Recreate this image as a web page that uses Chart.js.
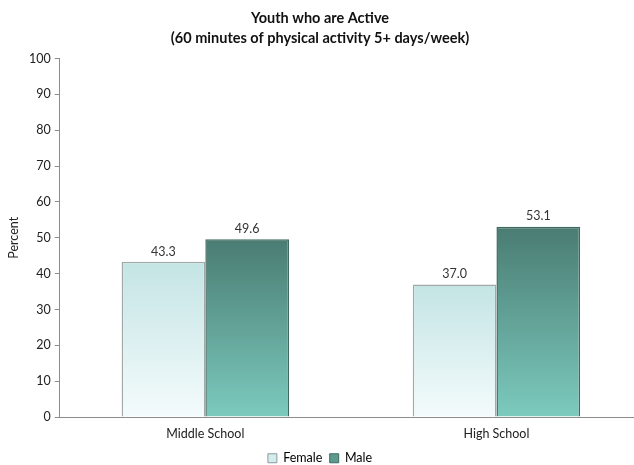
<!DOCTYPE html>
<html>
<head>
<meta charset="utf-8">
<script src="https://cdn.jsdelivr.net/npm/chart.js@4"></script>
<style>
  html, body { margin: 0; padding: 0; background: #fff; }
  #wrap { width: 634px; height: 465px; }
</style>
</head>
<body>
<div id="wrap"><canvas id="active_chart"></canvas></div>
<script>
let categories = ['Middle School', 'High School'];
let female_data = [43.3, 37.0];
let male_data = [49.6, 53.1];
let y_ticks = [0, 10, 20, 30, 40, 50, 60, 70, 80, 90, 100];

// vertical gradient from the top of each bar down to zero
function barGradient(context, topColor, bottomColor) {
    let chart = context.chart;
    let area = chart.chartArea;
    if (!area || context.parsed === undefined) return topColor;
    let y = chart.scales.y;
    let top = y.getPixelForValue(context.parsed.y);
    let bottom = y.getPixelForValue(0);
    let g = chart.ctx.createLinearGradient(0, top, 0, bottom);
    g.addColorStop(0, topColor);
    g.addColorStop(1, bottomColor);
    return g;
}

// value labels above bars
const valueLabels = {
    id: 'valueLabels',
    afterDatasetsDraw(chart) {
        let ctx = chart.ctx;
        ctx.save();
        ctx.font = '12.5px Lato, "Open Sans", sans-serif';
        ctx.fillStyle = '#333';
        ctx.textAlign = 'center';
        ctx.textBaseline = 'bottom';
        chart.data.datasets.forEach(function(ds, i) {
            chart.getDatasetMeta(i).data.forEach(function(bar, j) {
                ctx.fillText(ds.data[j].toFixed(1), bar.x, bar.y - 4);
            });
        });
        ctx.restore();
    }
};

// let the category axis run a little past the right edge of the canvas,
// and nudge the legend down toward the bottom edge
const layoutTweaks = {
    id: 'layoutTweaks',
    afterLayout(chart) {
        let x = chart.scales.x;
        x.right += 8;
        x.width += 8;
        x.configure();
        if (chart.legend) {
            chart.legend.top += 9;
            chart.legend.bottom += 9;
        }
    }
};

Chart.defaults.font.family = 'Lato, "Open Sans", sans-serif';
Chart.defaults.color = '#222';

new Chart(document.getElementById('active_chart'), {
    type: 'bar',
    data: {
        labels: categories,
        datasets: [
            {
                label: 'Female',
                data: female_data,
                backgroundColor: (c) => barGradient(c, '#c4e4e4', '#f4fbfc'),
                borderColor: '#a3a9a9',
                borderWidth: 1.5,
                legendColor: '#d4ecec',
                legendBorder: '#8a9a9a'
            },
            {
                label: 'Male',
                data: male_data,
                backgroundColor: (c) => barGradient(c, '#4a7c72', '#7ccabe'),
                borderColor: '#3f6a62',
                borderWidth: 1.5,
                legendColor: '#5c9a8e',
                legendBorder: '#3f6a62'
            }
        ]
    },
    options: {
        responsive: true,
        maintainAspectRatio: false,
        animation: false,
        layout: { padding: { top: 0, right: 0, left: 6, bottom: 0 } },
        datasets: {
            bar: { categoryPercentage: 0.575, barPercentage: 1.0 }
        },
        plugins: {
            title: {
                display: true,
                text: ['Youth who are Active', '(60 minutes of physical activity 5+ days/week)'],
                font: { size: 14.5, weight: 'bold', lineHeight: 1.4 },
                color: '#111',
                padding: { top: 8, bottom: 10 }
            },
            legend: {
                position: 'bottom',
                maxHeight: 23,
                labels: {
                    boxWidth: 9,
                    boxHeight: 9,
                    padding: 1,
                    font: { size: 12.5 },
                    color: '#222',
                    generateLabels: function(chart) {
                        return chart.data.datasets.map(function(ds, i) {
                            return {
                                text: i === 0 ? ds.label + '  ' : ds.label,
                                fillStyle: ds.legendColor,
                                strokeStyle: ds.legendBorder,
                                lineWidth: 1,
                                datasetIndex: i
                            };
                        });
                    }
                }
            },
            tooltip: { enabled: false }
        },
        scales: {
            y: {
                min: 0,
                max: 100,
                afterBuildTicks: function(axis) {
                    axis.ticks = y_ticks.map((v) => ({ value: v }));
                },
                title: {
                    display: true,
                    text: 'Percent',
                    font: { size: 12.5 },
                    color: '#222',
                    padding: { top: 0, bottom: 4 }
                },
                ticks: { font: { size: 12.5 }, color: '#222', padding: 4 },
                grid: {
                    drawOnChartArea: false,
                    tickLength: 5,
                    color: '#8c8c8c'
                },
                border: { color: '#8c8c8c', width: 1 }
            },
            x: {
                ticks: { font: { size: 12.5 }, color: '#222', padding: 1 },
                grid: { display: false },
                border: { color: '#8c8c8c', width: 1 }
            }
        }
    },
    plugins: [valueLabels, layoutTweaks]
});
</script>
</body>
</html>
